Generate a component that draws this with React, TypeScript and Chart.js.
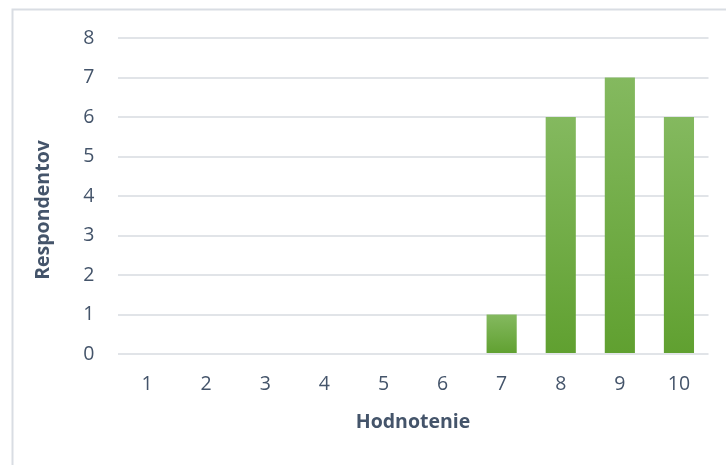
import React, { useEffect, useRef } from "react";
import { Chart, registerables } from "chart.js";

Chart.register(...registerables);

const categories: string[] = ["1", "2", "3", "4", "5", "6", "7", "8", "9", "10"];
const respondents: number[] = [0, 0, 0, 0, 0, 0, 1, 6, 7, 6];
const yTicks: number[] = [0, 1, 2, 3, 4, 5, 6, 7, 8];
const xTitle = "Hodnotenie";
const yTitle = "Respondentov";

const TEXT = "#44546a";
const FONT = "'Open Sans', 'Noto Sans', sans-serif";

export default function App() {
  const ref = useRef<HTMLCanvasElement | null>(null);
  useEffect(() => {
    if (!ref.current) return;
    const framePlugin = {
      id: "frame",
      beforeDraw(chart: any) {
        const ctx = chart.ctx;
        ctx.save();
        ctx.strokeStyle = "#d9dde3";
        ctx.lineWidth = 2;
        ctx.beginPath();
        ctx.moveTo(12.5, 470);
        ctx.lineTo(12.5, 9.5);
        ctx.lineTo(730, 9.5);
        ctx.stroke();
        ctx.restore();
      },
      afterDraw(chart: any) {
        const ctx = chart.ctx;
        ctx.save();
        ctx.translate(43.5, 210);
        ctx.rotate(-Math.PI / 2);
        ctx.fillStyle = TEXT;
        ctx.font = `bold 19.5px ${FONT}`;
        ctx.textAlign = "center";
        ctx.textBaseline = "middle";
        ctx.fillText(yTitle, 0, 0);
        ctx.restore();
      },
    };
    const chart = new Chart(ref.current, {
      type: "bar",
      data: {
        labels: categories,
        datasets: [
          {
            data: respondents,
            backgroundColor: (c: any) => {
              const ch = c.chart;
              const area = ch.chartArea;
              const ys = ch.scales?.y;
              if (!area || !ys || c.parsed == null) return "#70ad47";
              const top = ys.getPixelForValue(c.parsed.y);
              const base = ys.getPixelForValue(0);
              if (!isFinite(top) || !isFinite(base) || top === base) return "#70ad47";
              const g = ch.ctx.createLinearGradient(0, top, 0, base);
              g.addColorStop(0, "#84b95f");
              g.addColorStop(1, "#60a030");
              return g;
            },
            borderWidth: 0,
            barPercentage: 0.51,
            categoryPercentage: 1,
          },
        ],
      },
      options: {
        animation: false,
        responsive: false,
        maintainAspectRatio: false,
        layout: { padding: { left: 0, right: 17.5, top: 38, bottom: 0 } },
        plugins: { legend: { display: false }, tooltip: { enabled: false }, title: { display: false } },
        scales: {
          x: {
            afterFit: (s: any) => {
              s.height = 111;
            },
            grid: { display: false, drawTicks: false },
            border: { display: false },
            ticks: { color: TEXT, font: { family: FONT, size: 19.5 }, padding: 19 },
            title: {
              display: true,
              text: xTitle,
              color: TEXT,
              font: { family: FONT, size: 19.5, weight: "bold" },
              padding: { top: 0, bottom: 31 },
            },
          },
          y: {
            min: 0,
            max: 8,
            afterFit: (s: any) => {
              s.width = 117.5;
            },
            afterBuildTicks: (s: any) => {
              s.ticks = yTicks.map((v) => ({ value: v }));
            },
            grid: { color: "#e1e4e8", lineWidth: 2, drawTicks: false },
            border: { display: false },
            ticks: { color: TEXT, font: { family: FONT, size: 19.5 }, padding: 23 },
          },
        },
      },
      plugins: [framePlugin],
    } as any);
    return () => chart.destroy();
  }, []);
  return (
    <div style={{ position: "fixed", left: 0, top: 0, width: 726, height: 465, background: "#fff" }}>
      <canvas ref={ref} width={726} height={465} style={{ display: "block" }} />
    </div>
  );
}
